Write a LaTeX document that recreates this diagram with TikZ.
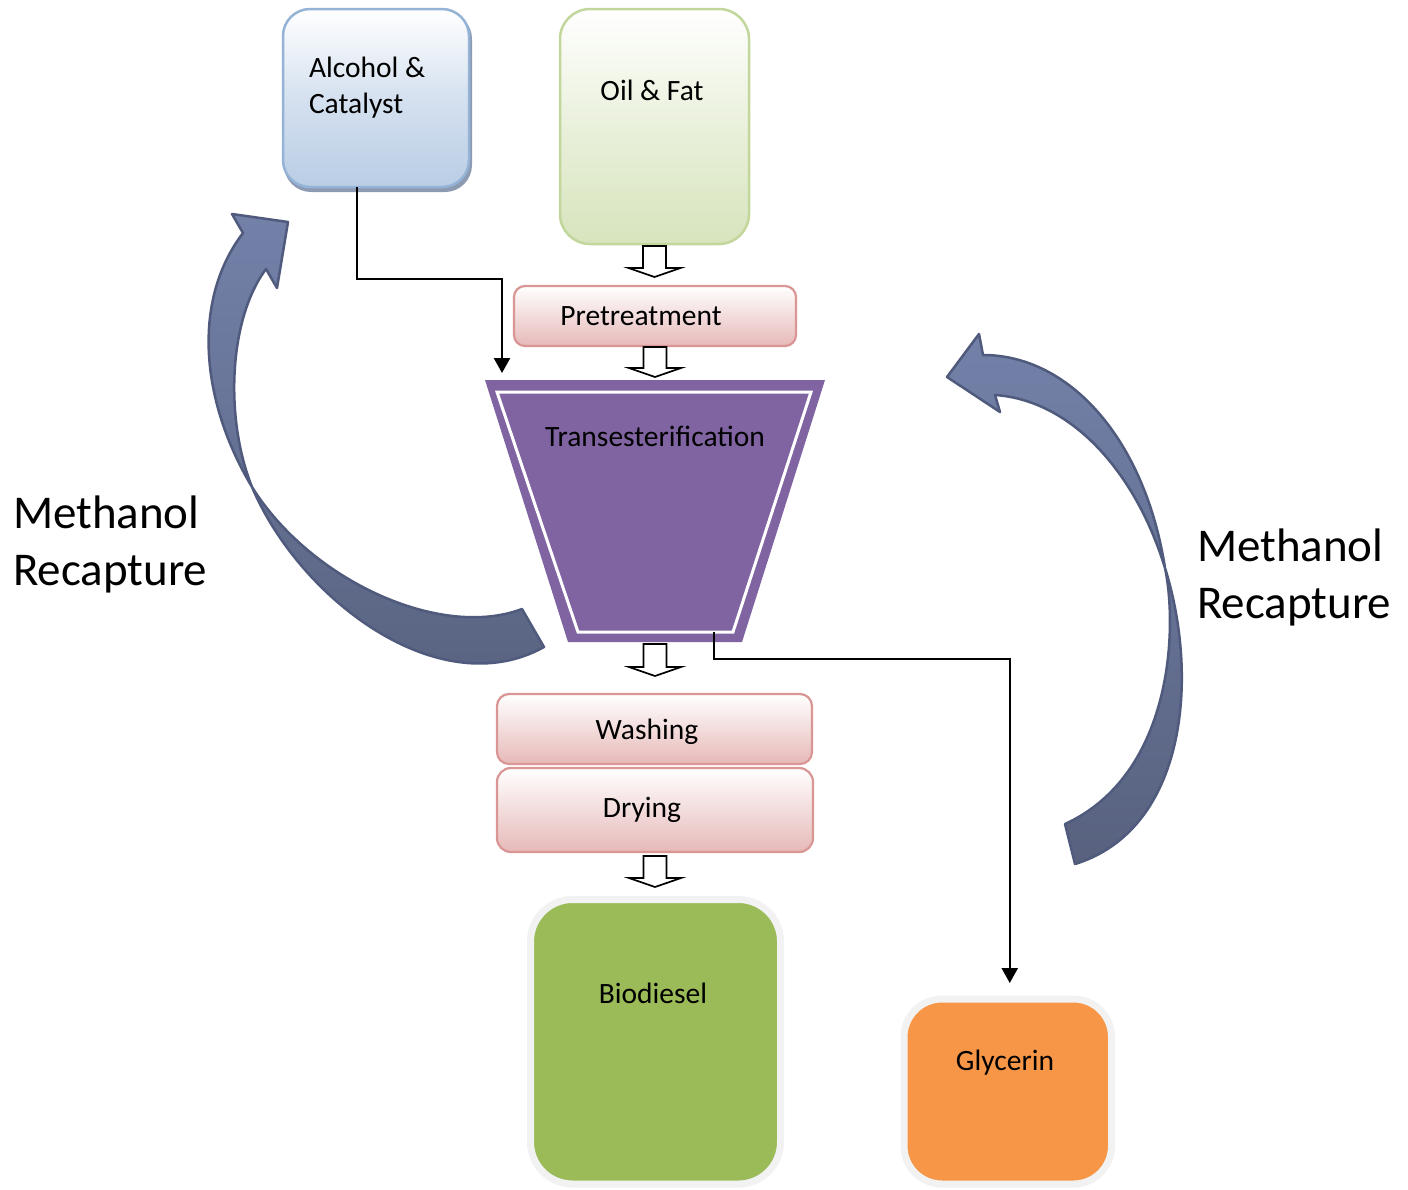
\documentclass[tikz,border=0pt]{standalone}
\usepackage{fontspec}
\setmainfont{Carlito}
\usetikzlibrary{arrows.meta,calc}
\definecolor{alcB}{HTML}{B9CDE5}
\definecolor{alcD}{HTML}{95B3D7}
\definecolor{alcS}{HTML}{8D9BB2}
\definecolor{oilB}{HTML}{D7E4BD}
\definecolor{oilD}{HTML}{C3D69B}
\definecolor{pinkB}{HTML}{E6B9B8}
\definecolor{pinkD}{HTML}{D99694}
\definecolor{transF}{HTML}{8064A2}
\definecolor{bioF}{HTML}{9BBB59}
\definecolor{glyF}{HTML}{F79646}
\definecolor{rimC}{HTML}{F2F2F2}
\definecolor{cuT}{HTML}{7381A9}
\definecolor{cuB}{HTML}{58627F}
\definecolor{cuD}{HTML}{4F5A7D}
\newcommand{\blockdown}[2]{%
  \draw[blockarr] let \p1=(#1), \p2=(#2) in
    (\x1-11.5pt,\y1) -- (\x1+11.5pt,\y1) -- (\x1+11.5pt,\y2+9pt) -- (\x1+26pt,\y2+9pt)
    -- (\x1,\y2) -- (\x1-26pt,\y2+9pt) -- (\x1-11.5pt,\y2+9pt) -- cycle;}
\begin{document}
\begin{tikzpicture}[x=1pt,y=-1pt,
  box/.style={draw, outer sep=0pt, inner sep=0pt},
  lbl/.style={inner sep=0pt, outer sep=0pt, anchor=base, font=\fontsize{29.5pt}{36pt}\selectfont},
  big/.style={inner sep=0pt, outer sep=0pt, anchor=base west, align=left, font=\fontsize{47pt}{57pt}\selectfont},
  pinkbox/.style={box, draw=pinkD, line width=2.2pt, top color=white, bottom color=pinkB},
  blockarr/.style={draw=black, line width=1.7pt, fill=white, line join=miter},
  thinarr/.style={draw=black, line width=2.4pt, -{Triangle[width=16pt,length=15pt]}},
  curved/.style={draw=cuD, line width=2.5pt, top color=cuT, bottom color=cuB, line join=round},
]
\fill[white] (0,0) rectangle (1408,1189);
\useasboundingbox (0,0) rectangle (1408,1189);

% input boxes
\node[box, draw=none, fill=alcS, rounded corners=27pt, minimum width=188pt, minimum height=180pt] (alcshadow) at (378,102) {};
\node[box, draw=alcD, line width=2.5pt, rounded corners=27pt, minimum width=186pt, minimum height=178pt,
      top color=white, bottom color=alcB, middle color=alcB!60!white] (alc) at (376,98) {};
\node[box, draw=oilD, line width=2.5pt, rounded corners=30pt, minimum width=189pt, minimum height=235pt,
      top color=white, bottom color=oilB, middle color=oilB!55!white] (oil) at (654.5,126.5) {};

% process boxes
\node[pinkbox, rounded corners=11pt, minimum width=282pt, minimum height=60pt] (pre) at (655,316) {};
\node[pinkbox, rounded corners=12pt, minimum width=315pt, minimum height=70pt] (wash) at (654.5,729) {};
\node[pinkbox, rounded corners=14pt, minimum width=316pt, minimum height=84pt] (dry) at (655,810) {};

% transesterification funnel
\coordinate (tTL) at (485,380);
\coordinate (tTR) at (825,380);
\coordinate (tBR) at (742,642);
\coordinate (tBL) at (568,642);
\coordinate (tTop) at (655,380);
\coordinate (tBot) at (655,642);
\fill[transF] (tTL) -- (tTR) -- (tBR) -- (tBL) -- cycle;
\draw[white, line width=3pt, line join=miter] (497,392) -- (811,392) -- (733,632) -- (578,632) -- cycle;
\coordinate (tout) at (714,632);
\coordinate (tin) at (502,373);

% products
\node[box, draw=rimC, line width=7pt, fill=bioF, rounded corners=42pt, minimum width=250pt, minimum height=284.5pt] (bio) at (655.5,1041.75) {};
\node[box, draw=rimC, line width=7pt, fill=glyF, rounded corners=38pt, minimum width=207.5pt, minimum height=185pt] (gly) at (1007.75,1091.5) {};

% labels
\node[lbl, anchor=base west, align=left] (talc) at (309,113) {Alcohol \&\\Catalyst};
\node[lbl] (toil) at (652,100) {Oil \& Fat};
\node[lbl] (tpre) at (641,325) {Pretreatment};
\node[lbl] (ttrans) at (655,446) {Transesterification};
\node[lbl] (twash) at (647,739) {Washing};
\node[lbl] (tdry) at (642,817) {Drying};
\node[lbl] (tbio) at (653,1003) {Biodiesel};
\node[lbl] (tgly) at (1005,1070) {Glycerin};
\node[big] (mleft) at (13,585) {Methanol\\Recapture};
\node[big] (mright) at (1197,618) {Methanol\\Recapture};

% block arrows
\blockdown{[yshift=-2pt]oil.south}{[yshift=9pt]pre.north}
\blockdown{[yshift=-1pt]pre.south}{[yshift=3pt]tTop}
\blockdown{[yshift=-2pt]tBot}{[yshift=18pt]wash.north}
\blockdown{[yshift=-4pt]dry.south}{[yshift=12.5pt]bio.north}

% thin connectors
\draw[thinarr] ([xshift=-19pt]alc.south) -- ++(0,92) -| (tin);
\draw[thinarr] (tout) -- ++(0,27) -| ([xshift=2pt,yshift=16pt]gly.north);

% methanol recapture curved arrows
\path[curved] (288,222) -- (277,288) -- (266,269)
  .. controls (228,320) and (225,420) .. (252,487)
  .. controls (300,600) and (440,705) .. (544,647)
  -- (522,609)
  .. controls (440,640) and (310,580) .. (252,487)
  .. controls (200,400) and (192,300) .. (243,233)
  -- (232,214) -- cycle;
\path[curved] (947,377) -- (979,334) -- (983,355)
  .. controls (1070,355) and (1145,440) .. (1165,568)
  .. controls (1178,630) and (1172,775) .. (1065,824)
  -- (1075,864)
  .. controls (1185,830) and (1200,680) .. (1165,568)
  .. controls (1135,470) and (1070,400) .. (995,395)
  -- (1000,412) -- cycle;
\end{tikzpicture}
\end{document}
